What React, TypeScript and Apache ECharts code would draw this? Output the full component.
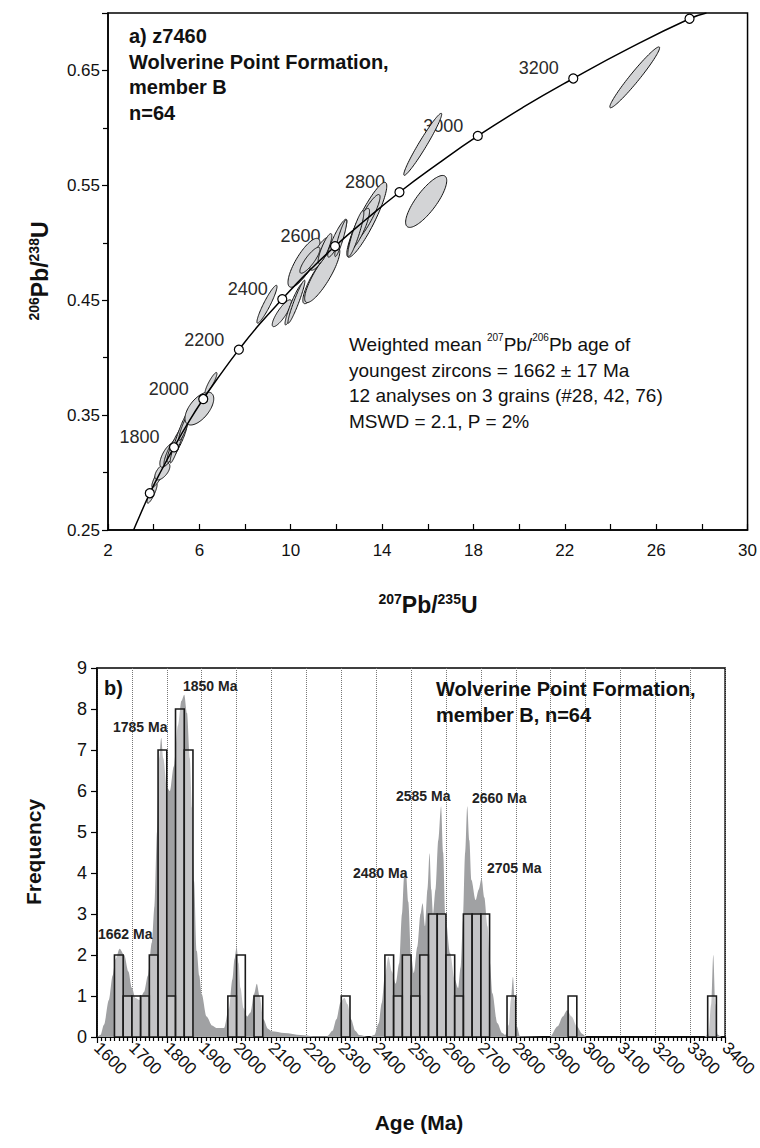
import React, { useEffect, useRef } from "react";
import * as echarts from "echarts";

const FONT = "'Liberation Sans', Arial, Helvetica, sans-serif";

// ---------- Panel a: concordia ----------
const concordiaAge = [1438, 1500, 1600, 1700, 1800, 1900, 2000, 2100, 2200, 2300, 2400, 2500, 2600, 2700, 2800, 2900, 3000, 3100, 3200, 3300, 3400, 3427];
const concordiaX = [3.12, 3.38, 3.83, 4.34, 4.89, 5.5, 6.17, 6.91, 7.73, 8.63, 9.63, 10.73, 11.94, 13.28, 14.76, 16.39, 18.19, 20.18, 22.37, 24.79, 27.46, 28.2];
const concordiaY = [0.25, 0.262, 0.282, 0.302, 0.322, 0.343, 0.364, 0.385, 0.407, 0.429, 0.451, 0.474, 0.497, 0.52, 0.544, 0.568, 0.593, 0.618, 0.643, 0.669, 0.695, 0.7];
const markerAges = [1600, 1800, 2000, 2200, 2400, 2600, 2800, 3000, 3200, 3400];
const labelledAges = [1800, 2000, 2200, 2400, 2600, 2800, 3000, 3200];

// error ellipses: [207Pb/235U, 206Pb/238U, half-width x, half-height y, correlation]
const ellipses = [
  [3.93, 0.282, 0.22, 0.0087, 0.85],
  [4.27, 0.299, 0.35, 0.0117, 0.9],
  [4.38, 0.301, 0.33, 0.0074, 0.6],
  [4.6, 0.315, 0.33, 0.0104, 0.7],
  [4.75, 0.318, 0.3, 0.012, 0.85],
  [5.02, 0.326, 0.44, 0.017, 0.9],
  [5.11, 0.33, 0.39, 0.0217, 0.95],
  [5.35, 0.34, 0.25, 0.012, 0.9],
  [6.0, 0.3557, 0.63, 0.0143, 0.6],
  [6.51, 0.378, 0.26, 0.0091, 0.9],
  [8.96, 0.4465, 0.44, 0.0165, 0.93],
  [9.61, 0.4387, 0.42, 0.0117, 0.85],
  [10.14, 0.4465, 0.39, 0.018, 0.93],
  [10.25, 0.4487, 0.37, 0.0187, 0.95],
  [11.12, 0.467, 0.59, 0.02, 0.85],
  [10.58, 0.4826, 0.7, 0.0213, 0.8],
  [11.38, 0.472, 0.77, 0.024, 0.85],
  [11.28, 0.4904, 0.44, 0.0143, 0.8],
  [11.5, 0.495, 0.3, 0.013, 0.85],
  [10.84, 0.4848, 0.44, 0.0113, 0.85],
  [12.04, 0.504, 0.42, 0.0165, 0.9],
  [12.19, 0.504, 0.26, 0.016, 0.9],
  [13.24, 0.5165, 0.52, 0.0143, 0.7],
  [13.33, 0.52, 0.875, 0.0326, 0.9],
  [13.3, 0.521, 0.61, 0.021, 0.9],
  [13.0, 0.512, 0.45, 0.018, 0.85],
  [12.85, 0.508, 0.35, 0.02, 0.9],
  [15.78, 0.5857, 0.83, 0.027, 0.97],
  [15.93, 0.536, 0.9, 0.0226, 0.8],
  [25.06, 0.644, 1.09, 0.0265, 0.97],
];

// ---------- Panel b: histogram + probability curve ----------
const BIN = 25;
const binStart = [1650, 1675, 1700, 1725, 1750, 1775, 1800, 1825, 1850, 1975, 2000, 2050, 2300, 2425, 2450, 2475, 2500, 2525, 2550, 2575, 2600, 2625, 2650, 2675, 2700, 2775, 2950, 3350];
const binCount = [2, 1, 1, 1, 2, 7, 1, 8, 7, 1, 2, 1, 1, 2, 1, 2, 1, 2, 3, 3, 2, 1, 3, 3, 3, 1, 1, 1];

const pdpAge = [1600, 1610, 1620, 1634, 1645, 1653, 1665, 1678, 1690, 1700, 1710, 1722, 1735, 1746, 1757, 1765, 1772, 1778, 1784, 1790, 1800, 1809, 1820, 1832, 1842, 1850, 1858, 1866, 1872, 1878, 1886, 1893, 1900, 1914, 1930, 1942, 1964, 1978, 1988, 1994, 2000, 2006, 2011, 2020, 2030, 2040, 2050, 2058, 2066, 2077, 2090, 2100, 2137, 2184, 2220, 2260, 2275, 2286, 2298, 2309, 2318, 2328, 2340, 2351, 2380, 2395, 2407, 2416, 2425, 2435, 2445, 2456, 2466, 2474, 2480, 2485, 2492, 2500, 2508, 2518, 2527, 2533, 2540, 2547, 2553, 2558, 2563, 2570, 2578, 2586, 2592, 2598, 2612, 2625, 2635, 2642, 2649, 2655, 2661, 2667, 2673, 2685, 2694, 2702, 2710, 2719, 2726, 2733, 2747, 2761, 2770, 2780, 2786, 2792, 2797, 2803, 2812, 2898, 2920, 2935, 2947, 2960, 2975, 2990, 3003, 3340, 3352, 3360, 3366, 3372, 3378, 3390, 3400];
const pdpValue = [0, 0.05, 0.3, 0.9, 1.5, 1.9, 2.15, 2.0, 1.6, 1.2, 0.95, 0.9, 1.1, 1.5, 2.3, 3.2, 5.0, 6.8, 7.3, 6.8, 6.1, 6.0, 6.6, 7.6, 8.2, 8.35, 7.9, 6.8, 5.6, 3.8, 2.1, 1.5, 1.05, 0.5, 0.28, 0.22, 0.22, 0.7, 1.4, 1.9, 2.2, 1.8, 1.2, 0.7, 0.5, 0.6, 1.05, 1.3, 1.0, 0.43, 0.2, 0.14, 0.1, 0.05, 0.02, 0.02, 0.15, 0.43, 0.85, 0.96, 0.8, 0.43, 0.15, 0.05, 0, 0.05, 0.33, 0.83, 1.5, 1.96, 1.6, 1.3, 1.8, 3.0, 3.9, 4.07, 3.3, 2.0, 1.56, 2.2, 3.0, 3.26, 2.7, 3.6, 4.48, 3.6, 3.0, 3.6, 4.8, 5.63, 4.5, 3.0, 2.04, 1.4, 1.19, 1.7, 2.85, 4.5, 5.63, 4.8, 3.83, 3.34, 3.6, 3.87, 3.4, 2.7, 1.8, 1.07, 0.34, 0.1, 0.05, 0.3, 0.9, 1.47, 0.9, 0.26, 0.02, 0, 0.26, 0.5, 0.65, 0.5, 0.26, 0.08, 0, 0, 0.06, 0.8, 2.0, 0.8, 0.06, 0, 0];

const peakLabels = ["1850 Ma", "1785 Ma", "1662 Ma", "2480 Ma", "2585 Ma", "2660 Ma", "2705 Ma"];

export default function App() {
  const ref = useRef<HTMLDivElement>(null);
  useEffect(() => {
    if (!ref.current) return;
    const chart = echarts.init(ref.current, undefined, { renderer: "svg" });

    const concordiaData = concordiaX.map((x, i) => [x, concordiaY[i]]);
    const markerData = markerAges.map((a) => {
      const i = concordiaAge.indexOf(a);
      return [concordiaX[i], concordiaY[i], a];
    });
    const labelData = markerData.filter((d) => labelledAges.indexOf(d[2]) >= 0);

    const axisLine = { show: true, onZero: false, lineStyle: { color: "#000", width: 1.5 } };
    const tickStyle = { color: "#000", width: 1.2 };

    const peakPos: [number, number][] = [
      [183, 686], [113, 727], [98, 934], [353, 873], [396, 796], [472, 798], [487, 868],
    ];

    const option: any = {
      animation: false,
      textStyle: { fontFamily: FONT },
      grid: [
        { left: 108, top: 13, width: 640, height: 517, show: true, borderColor: "#000", borderWidth: 1.5 },
        { left: 97, top: 668, width: 644, height: 369, show: true, borderColor: "#000", borderWidth: 1.5 },
      ],
      xAxis: [
        {
          gridIndex: 0, type: "value", min: 2, max: 30, interval: 4,
          axisLine, axisTick: { show: true, inside: true, length: 6, lineStyle: tickStyle },
          minorTick: { show: true, splitNumber: 2, length: 6, lineStyle: tickStyle },
          splitLine: { show: false },
          axisLabel: { color: "#111", fontSize: 17, margin: 12, fontFamily: FONT },
        },
        {
          gridIndex: 1, type: "value", min: 1600, max: 3400, interval: 100,
          axisLine, axisTick: { show: true, inside: false, length: 6, lineStyle: tickStyle },
          minorTick: { show: true, splitNumber: 8, length: 4, lineStyle: tickStyle },
          splitLine: { show: true, lineStyle: { type: "dotted", color: "#777", width: 1 } },
          axisLabel: { color: "#111", fontSize: 17, margin: 8, rotate: -45, fontFamily: FONT, formatter: (v: number) => String(Math.round(v)) },
        },
      ],
      yAxis: [
        {
          gridIndex: 0, type: "value", min: 0.25, max: 0.7, interval: 0.1,
          axisLine, axisTick: { show: true, inside: false, length: 6, lineStyle: tickStyle },
          minorTick: { show: true, splitNumber: 2, length: 5, lineStyle: tickStyle },
          splitLine: { show: false },
          axisLabel: { color: "#111", fontSize: 17, margin: 8, showMaxLabel: false, fontFamily: FONT, formatter: (v: number) => v.toFixed(2) },
        },
        {
          gridIndex: 1, type: "value", min: 0, max: 9, interval: 1,
          axisLine, axisTick: { show: true, inside: false, length: 6, lineStyle: tickStyle },
          splitLine: { show: false },
          axisLabel: { color: "#111", fontSize: 18, margin: 10, fontFamily: FONT },
        },
      ],
      series: [
        {
          type: "scatter", xAxisIndex: 0, yAxisIndex: 0, z: 1, data: labelData,
          symbol: "circle", symbolSize: 9, itemStyle: { color: "rgba(0,0,0,0)", opacity: 1 }, silent: true,
          label: {
            show: true, position: "left", distance: 10, offset: [0, -10],
            color: "#2a2a2a", fontSize: 18, fontFamily: FONT,
            formatter: (p: any) => String(p.value[2]),
          },
        },
        {
          type: "custom", xAxisIndex: 0, yAxisIndex: 0, z: 2, clip: true,
          encode: { x: 0, y: 1 },
          data: ellipses,
          renderItem: (params: any, api: any) => {
            const cx = api.value(0), cy = api.value(1), sx = api.value(2), sy = api.value(3), r = api.value(4);
            const k = Math.sqrt(1 - r * r);
            const pts: number[][] = [];
            for (let i = 0; i < 90; i++) {
              const a = (i / 90) * Math.PI * 2;
              pts.push(api.coord([cx + sx * Math.cos(a), cy + sy * (r * Math.cos(a) + k * Math.sin(a))]));
            }
            return { type: "polygon", shape: { points: pts }, style: { fill: "#d3d4d6", stroke: "#111", lineWidth: 1 } };
          },
        },
        {
          type: "line", xAxisIndex: 0, yAxisIndex: 0, z: 3, data: concordiaData, smooth: true,
          showSymbol: false, symbol: "none", lineStyle: { color: "#000", width: 1.5 },
        },
        {
          type: "scatter", xAxisIndex: 0, yAxisIndex: 0, z: 4, data: markerData,
          symbol: "circle", symbolSize: 9,
          itemStyle: { color: "#fff", borderColor: "#000", borderWidth: 1.2, opacity: 1 },
        },
        {
          type: "line", xAxisIndex: 1, yAxisIndex: 1, z: 2,
          data: pdpAge.map((a, i) => [a, pdpValue[i]]),
          smooth: 0.3, smoothMonotone: "x", showSymbol: false, symbol: "none",
          lineStyle: { width: 0 },
          areaStyle: { color: "#a0a1a3", opacity: 1 },
        },
        {
          type: "custom", xAxisIndex: 1, yAxisIndex: 1, z: 3, clip: true,
          encode: { x: 0, y: 1 },
          data: binStart.map((s, i) => [s, binCount[i]]),
          renderItem: (params: any, api: any) => {
            const s = api.value(0), c = api.value(1);
            const p0 = api.coord([s, c]);
            const p1 = api.coord([s + BIN, 0]);
            return {
              type: "rect",
              shape: { x: p0[0], y: p0[1], width: p1[0] - p0[0], height: p1[1] - p0[1] },
              style: { fill: "rgba(255,255,255,0.38)", stroke: "#1b1b1b", lineWidth: 1.6 },
            };
          },
        },
      ],
      graphic: [
        {
          type: "text", x: 129, y: 23, z: 10,
          style: {
            text: "a) z7460\nWolverine Point Formation,\nmember B\nn=64",
            fontSize: 20, fontWeight: "bold", fontFamily: FONT, lineHeight: 25.7, fill: "#111",
            verticalAlign: "top",
          },
        },
        {
          type: "text", x: 349, y: 332, z: 10,
          style: {
            text: "Weighted mean {s|207}Pb/{s|206}Pb age of\nyoungest zircons = 1662 ± 17 Ma\n12 analyses on 3 grains (#28, 42, 76)\nMSWD = 2.1, P = 2%",
            fontSize: 19, fontFamily: FONT, lineHeight: 25.5, fill: "#111", verticalAlign: "top",
            rich: { s: { fontSize: 10, lineHeight: 12, verticalAlign: "top", fontFamily: FONT, fill: "#111" } },
          },
        },
        {
          type: "text", x: 428, y: 605, z: 10,
          style: {
            text: "{s|207}{m|Pb/}{s|235}{m|U}", align: "center", verticalAlign: "middle",
            rich: {
              m: { fontSize: 23, fontWeight: "bold", lineHeight: 26, fontFamily: FONT, fill: "#111" },
              s: { fontSize: 14, fontWeight: "bold", lineHeight: 15, verticalAlign: "top", fontFamily: FONT, fill: "#111" },
            },
          },
        },
        {
          type: "text", x: 40, y: 271, z: 10, rotation: Math.PI / 2,
          style: {
            text: "{s|206}{m|Pb/}{s|238}{m|U}", align: "center", verticalAlign: "middle",
            rich: {
              m: { fontSize: 23, fontWeight: "bold", lineHeight: 26, fontFamily: FONT, fill: "#111" },
              s: { fontSize: 14, fontWeight: "bold", lineHeight: 15, verticalAlign: "top", fontFamily: FONT, fill: "#111" },
            },
          },
        },
        {
          type: "text", x: 104, y: 688, z: 10,
          style: { text: "b)", fontSize: 20, fontWeight: "bold", fontFamily: FONT, fill: "#111", verticalAlign: "middle" },
        },
        {
          type: "text", x: 436, y: 676, z: 10,
          style: {
            text: "Wolverine Point Formation,\nmember B, n=64", fontSize: 20, fontWeight: "bold",
            fontFamily: FONT, lineHeight: 26, fill: "#111", verticalAlign: "top",
          },
        },
        ...peakLabels.map((t, i) => ({
          type: "text", x: peakPos[i][0], y: peakPos[i][1], z: 10,
          style: { text: t, fontSize: 14, fontWeight: "bold", fontFamily: FONT, fill: "#222", verticalAlign: "middle" },
        })),
        {
          type: "text", x: 33, y: 852, z: 10, rotation: Math.PI / 2,
          style: { text: "Frequency", fontSize: 21, fontWeight: "bold", fontFamily: FONT, fill: "#111", align: "center", verticalAlign: "middle" },
        },
        {
          type: "text", x: 419, y: 1122, z: 10,
          style: { text: "Age (Ma)", fontSize: 21, fontWeight: "bold", fontFamily: FONT, fill: "#111", align: "center", verticalAlign: "middle" },
        },
      ],
    };
    chart.setOption(option);
    return () => chart.dispose();
  }, []);
  return <div ref={ref} style={{ position: "absolute", left: 0, top: 0, width: 760, height: 1148, background: "#fff" }} />;
}
